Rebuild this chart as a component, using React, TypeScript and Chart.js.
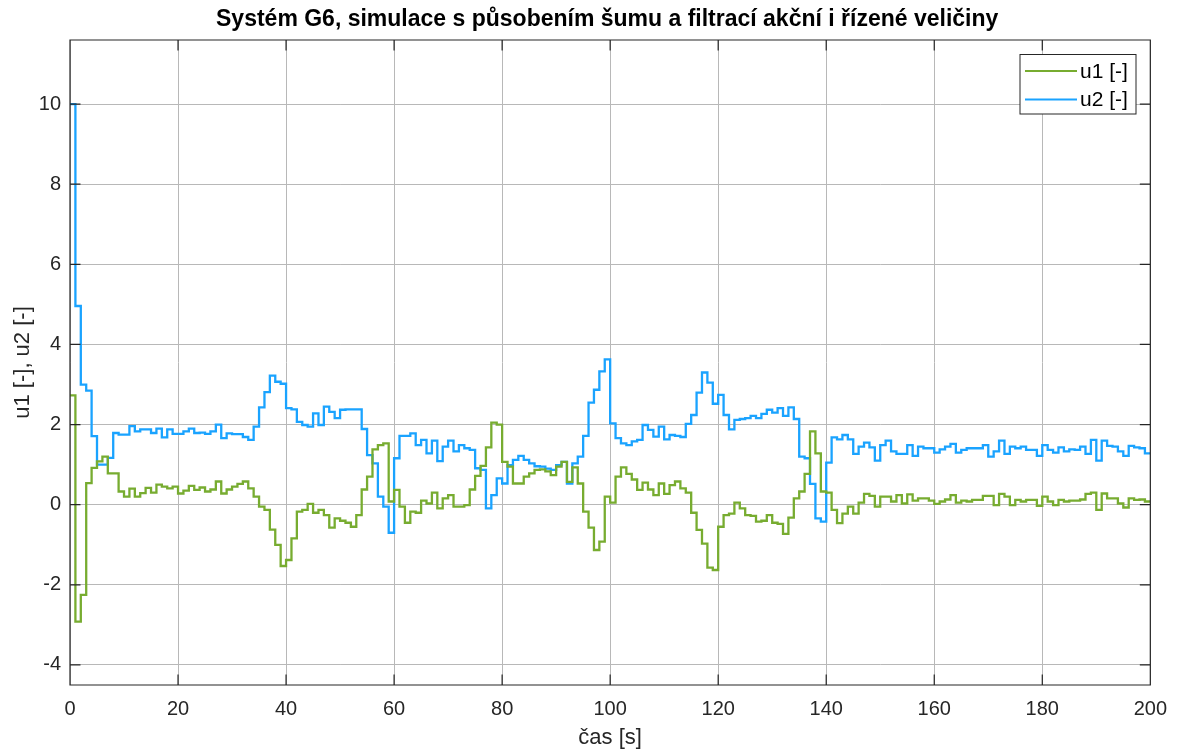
import { useEffect, useRef } from "react";
import { Chart, registerables } from "chart.js";

Chart.register(...registerables);

const TITLE = "Systém G6, simulace s působením šumu a filtrací akční i řízené veličiny";
const X_LABEL = "čas [s]";
const Y_LABEL = "u1 [-], u2 [-]";
const SERIES_NAMES = ["u1 [-]", "u2 [-]"];
const SERIES_COLORS = ["#77AC30", "#1AA3FF"];

const SAMPLE_TIME = 1; // s
const X_RANGE = [0, 200];
const Y_RANGE = [-4.5, 11.6];
const X_TICKS = [0, 20, 40, 60, 80, 100, 120, 140, 160, 180, 200];
const Y_TICKS = [-4, -2, 0, 2, 4, 6, 8, 10];

// Action variable u1, one value per sample (held until the next sample)
const U1 = [
  2.73, -2.92, -2.25, 0.54, 0.92, 1.08, 1.2, 0.78, 0.78, 0.33,
  0.2, 0.4, 0.2, 0.29, 0.42, 0.3, 0.5, 0.45, 0.41, 0.45,
  0.28, 0.35, 0.47, 0.37, 0.43, 0.33, 0.38, 0.58, 0.28, 0.38,
  0.45, 0.52, 0.58, 0.41, 0.2, -0.05, -0.13, -0.62, -1.0, -1.53,
  -1.38, -0.84, -0.17, -0.13, 0.02, -0.2, -0.13, -0.26, -0.57, -0.34,
  -0.4, -0.45, -0.55, -0.26, 0.38, 0.7, 1.38, 1.49, 1.53, 0.08,
  0.37, -0.05, -0.45, -0.17, -0.2, 0.1, 0.03, 0.3, -0.09, 0.16,
  0.24, -0.05, -0.05, -0.01, 0.38, 0.72, 0.97, 1.43, 2.05, 2.0,
  1.07, 0.95, 0.53, 0.53, 0.7, 0.78, 0.87, 0.88, 0.83, 0.74,
  0.95, 1.07, 0.57, 0.93, 0.53, -0.17, -0.57, -1.13, -0.92, 0.2,
  0.05, 0.7, 0.93, 0.77, 0.63, 0.37, 0.55, 0.38, 0.24, 0.53,
  0.27, 0.49, 0.58, 0.41, 0.3, -0.2, -0.63, -0.97, -1.57, -1.63,
  -0.55, -0.26, -0.22, 0.05, -0.09, -0.26, -0.28, -0.42, -0.4, -0.26,
  -0.45, -0.48, -0.73, -0.32, 0.16, 0.33, 0.77, 1.83, 1.28, 0.33,
  0.3, -0.13, -0.46, -0.22, -0.05, -0.22, 0.05, 0.27, 0.22, -0.05,
  0.2, 0.2, 0.08, 0.24, 0.03, 0.26, 0.1, 0.16, 0.16, 0.1,
  0.02, 0.08, 0.13, 0.24, 0.05, 0.1, 0.08, 0.12, 0.12, 0.22,
  0.22, -0.01, 0.27, 0.2, -0.01, 0.12, 0.08, 0.12, 0.12, -0.03,
  0.2, 0.08, -0.01, 0.12, 0.08, 0.1, 0.1, 0.13, 0.27, 0.3,
  -0.13, 0.28, 0.16, 0.16, 0.03, -0.07, 0.16, 0.12, 0.13, 0.08,
];

// Action variable u2, one value per sample
const U2 = [
  10, 4.96, 3.0, 2.85, 1.71, 1.0, 1.0, 1.17, 1.79, 1.75,
  1.75, 1.96, 1.83, 1.88, 1.88, 1.79, 1.9, 1.68, 1.88, 1.77,
  1.77, 1.83, 1.9, 1.79, 1.8, 1.77, 1.83, 2.0, 1.66, 1.78,
  1.76, 1.76, 1.69, 1.62, 1.95, 2.43, 2.81, 3.22, 3.07, 3.02,
  2.41, 2.38, 2.07, 1.99, 1.95, 2.28, 1.99, 2.45, 2.32, 2.16,
  2.37, 2.38, 2.38, 2.38, 1.89, 1.24, 1.03, 0.2, -0.05, -0.7,
  1.16, 1.72, 1.72, 1.78, 1.49, 1.62, 1.28, 1.6, 1.09, 1.45,
  1.6, 1.33, 1.49, 1.41, 1.37, 0.91, 0.87, -0.09, 0.24, 0.66,
  0.53, 0.99, 1.12, 1.22, 1.12, 1.03, 0.96, 0.95, 0.9, 0.87,
  0.99, 1.07, 0.53, 1.03, 1.2, 1.72, 2.55, 2.87, 3.33, 3.63,
  2.03, 1.66, 1.53, 1.49, 1.58, 1.62, 1.99, 1.87, 1.7, 1.95,
  1.63, 1.74, 1.72, 1.69, 2.02, 2.24, 2.8, 3.3, 3.05, 2.52,
  2.74, 2.24, 1.88, 2.12, 2.14, 2.16, 2.22, 2.16, 2.27, 2.37,
  2.3, 2.41, 2.22, 2.43, 2.14, 1.2, 1.16, 0.52, -0.34, -0.42,
  1.05, 1.68, 1.63, 1.74, 1.63, 1.27, 1.45, 1.55, 1.43, 1.1,
  1.49, 1.6, 1.33, 1.27, 1.27, 1.49, 1.22, 1.45, 1.41, 1.41,
  1.3, 1.38, 1.45, 1.52, 1.3, 1.37, 1.41, 1.41, 1.41, 1.49,
  1.2, 1.33, 1.6, 1.27, 1.45, 1.41, 1.45, 1.37, 1.37, 1.22,
  1.49, 1.37, 1.3, 1.43, 1.33, 1.38, 1.37, 1.45, 1.27, 1.62,
  1.1, 1.6, 1.47, 1.45, 1.33, 1.22, 1.47, 1.43, 1.41, 1.28,
];

const FONT = '"Liberation Sans", Arial, Helvetica, sans-serif';
const AXIS_COLOR = "#262626";
const GRID_COLOR = "#b8b8b8";
const TICK_LEN = 10.5;

// Stairs: each sample holds until the next one; the last one runs to the end of the axis.
function toStairs(values: number[]) {
  const pts = values.map((v, i) => ({ x: i * SAMPLE_TIME, y: v }));
  pts.push({ x: X_RANGE[1], y: values[values.length - 1] });
  return pts;
}

const decorations = {
  id: "matlabFrame",
  afterDraw(chart: any) {
    const { ctx, chartArea } = chart;
    const { left, right, top, bottom } = chartArea;
    const xs = chart.scales.x;
    const ys = chart.scales.y;
    ctx.save();

    // box and inward tick marks
    ctx.strokeStyle = AXIS_COLOR;
    ctx.lineWidth = 1.2;
    ctx.beginPath();
    ctx.rect(left, top, right - left, bottom - top);
    for (const t of X_TICKS) {
      const px = xs.getPixelForValue(t);
      ctx.moveTo(px, bottom);
      ctx.lineTo(px, bottom - TICK_LEN);
      ctx.moveTo(px, top);
      ctx.lineTo(px, top + TICK_LEN);
    }
    for (const t of Y_TICKS) {
      const py = ys.getPixelForValue(t);
      ctx.moveTo(left, py);
      ctx.lineTo(left + TICK_LEN, py);
      ctx.moveTo(right, py);
      ctx.lineTo(right - TICK_LEN, py);
    }
    ctx.stroke();

    const cx = (left + right) / 2;
    const cy = (top + bottom) / 2;

    // title
    ctx.fillStyle = "#000000";
    ctx.font = `bold 23px ${FONT}`;
    ctx.textAlign = "center";
    ctx.textBaseline = "alphabetic";
    ctx.fillText(TITLE, cx - 3, 26);

    // axis labels
    ctx.fillStyle = AXIS_COLOR;
    ctx.font = `22px ${FONT}`;
    ctx.fillText(X_LABEL, cx, 744);
    ctx.save();
    ctx.translate(29, cy);
    ctx.rotate(-Math.PI / 2);
    ctx.fillText(Y_LABEL, 0, 0);
    ctx.restore();

    // legend
    const lx = 1020, ly = 54.5, lw = 116, lh = 59.5;
    ctx.fillStyle = "#ffffff";
    ctx.fillRect(lx, ly, lw, lh);
    ctx.strokeStyle = AXIS_COLOR;
    ctx.lineWidth = 1;
    ctx.strokeRect(lx, ly, lw, lh);
    ctx.font = `21px ${FONT}`;
    ctx.textAlign = "left";
    ctx.textBaseline = "middle";
    SERIES_NAMES.forEach((name, i) => {
      const ry = ly + 16.5 + i * 28.5;
      ctx.strokeStyle = SERIES_COLORS[i];
      ctx.lineWidth = 2.2;
      ctx.beginPath();
      ctx.moveTo(lx + 5, ry);
      ctx.lineTo(lx + 57, ry);
      ctx.stroke();
      ctx.fillStyle = "#000000";
      ctx.fillText(name, lx + 60, ry + 1);
    });

    ctx.restore();
  },
};

export default function App() {
  const canvasRef = useRef<HTMLCanvasElement | null>(null);

  useEffect(() => {
    const canvas = canvasRef.current;
    if (!canvas) return;
    const chart = new Chart(canvas, {
      type: "line",
      data: {
        datasets: [
          {
            label: SERIES_NAMES[0],
            data: toStairs(U1),
            borderColor: SERIES_COLORS[0],
            borderWidth: 2.3,
            pointRadius: 0,
            stepped: "before",
            fill: false,
          },
          {
            label: SERIES_NAMES[1],
            data: toStairs(U2),
            borderColor: SERIES_COLORS[1],
            borderWidth: 2.3,
            pointRadius: 0,
            stepped: "before",
            fill: false,
          },
        ],
      },
      options: {
        responsive: false,
        animation: false,
        devicePixelRatio: 1,
        layout: { padding: { top: 40, right: 28, left: 0, bottom: 0 } },
        plugins: {
          legend: { display: false },
          title: { display: false },
          tooltip: { enabled: false },
        },
        scales: {
          x: {
            type: "linear",
            min: X_RANGE[0],
            max: X_RANGE[1],
            afterBuildTicks: (s: any) => {
              s.ticks = X_TICKS.map((v) => ({ value: v }));
            },
            afterFit: (s: any) => {
              s.height = 67;
            },
            grid: { color: GRID_COLOR, lineWidth: 1, drawTicks: false },
            border: { display: false },
            ticks: {
              padding: 12,
              color: AXIS_COLOR,
              font: { family: FONT, size: 20 },
              maxRotation: 0,
              autoSkip: false,
              callback: (v: any) => String(v),
            },
          },
          y: {
            type: "linear",
            min: Y_RANGE[0],
            max: Y_RANGE[1],
            afterBuildTicks: (s: any) => {
              s.ticks = Y_TICKS.map((v) => ({ value: v }));
            },
            afterFit: (s: any) => {
              s.width = 70;
            },
            grid: { color: GRID_COLOR, lineWidth: 1, drawTicks: false },
            border: { display: false },
            ticks: {
              padding: 9,
              color: AXIS_COLOR,
              font: { family: FONT, size: 20 },
              autoSkip: false,
              callback: (v: any) => String(v),
            },
          },
        },
      },
      plugins: [decorations],
    });
    return () => chart.destroy();
  }, []);

  return (
    <div style={{ position: "fixed", left: 0, top: 0, width: 1179, height: 752, background: "#ffffff" }}>
      <canvas ref={canvasRef} width={1179} height={752} style={{ display: "block" }} />
    </div>
  );
}
